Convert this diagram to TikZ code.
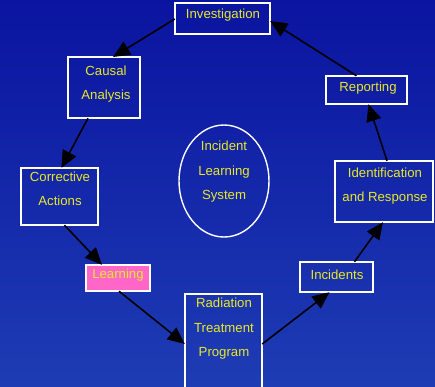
\documentclass[tikz,border=0pt]{standalone}
\usepackage{fontspec}
\setmainfont{Liberation Sans}
\usetikzlibrary{arrows.meta}
\definecolor{bgtop}{RGB}{10,20,160}
\definecolor{bgbot}{RGB}{30,60,180}
\definecolor{lbl}{RGB}{232,232,40}
\definecolor{pinkfill}{RGB}{255,102,200}
\tikzset{
  stagebox/.style={draw=white, line width=1.4pt, inner sep=0pt, minimum width=#1},
  lbltext/.style={text=lbl, font=\fontsize{13.2}{24.5}\selectfont, align=center, inner sep=0pt},
  flow/.style={draw=black, line width=1.6pt, -{Triangle[length=17pt,width=15pt]}}
}
\begin{document}
\begin{tikzpicture}[x=1pt,y=-1pt]
  % background
  \shade[top color=bgtop, bottom color=bgbot] (0,0) rectangle (435,386);
  \useasboundingbox (0,0) rectangle (435,386);

  % boxes (corner coordinates)
  \draw[stagebox] (175,3) rectangle (270,34);
  \node[inner sep=0pt, minimum width=95pt, minimum height=31pt] (inv) at (222.5,18.5) {};
  \draw[stagebox] (68,57) rectangle (140,118);
  \node[inner sep=0pt, minimum width=72pt, minimum height=61pt] (cau) at (104,87.5) {};
  \draw[stagebox] (326,76) rectangle (407,104);
  \node[inner sep=0pt, minimum width=81pt, minimum height=28pt] (rep) at (366.5,90) {};
  \draw[stagebox] (21,168) rectangle (98,225);
  \node[inner sep=0pt, minimum width=77pt, minimum height=57pt] (cor) at (59.5,196.5) {};
  \draw[stagebox] (335,161) rectangle (433,222);
  \node[inner sep=0pt, minimum width=98pt, minimum height=61pt] (idr) at (384,191.5) {};
  \draw[stagebox, fill=pinkfill] (86,265) rectangle (150,291);
  \node[inner sep=0pt, minimum width=64pt, minimum height=26pt] (lea) at (118,278) {};
  \draw[stagebox] (300,262) rectangle (373,292);
  \node[inner sep=0pt, minimum width=73pt, minimum height=30pt] (inc) at (336.5,277) {};
  \draw[stagebox] (185,294) rectangle (262,388);
  \node[inner sep=0pt, minimum width=77pt, minimum height=94pt] (rtp) at (223.5,341) {};

  % central ellipse
  \draw[white, line width=1.4pt] (224,181) ellipse (45pt and 56pt);
  \node[inner sep=0pt] (ils) at (224,181) {};

  % labels
  \node[lbltext] at (223,15) {Investigation};
  \node[lbltext] at (106,84) {Causal\\Analysis};
  \node[lbltext] at (368,88) {Reporting};
  \node[lbltext] at (60,189) {Corrective\\Actions};
  \node[lbltext] at (385,186) {Identification\\and Response};
  \node[lbltext] at (118,275) {Learning};
  \node[lbltext] at (337,275) {Incidents};
  \node[lbltext] at (224,329) {Radiation\\Treatment\\Program};
  \node[lbltext] at (224,172) {Incident\\Learning\\System};

  % cycle connectors
  \draw[flow] (inv.west |- 0,19) -- (113,57);
  \draw[flow] ([xshift=-16pt]cau.south) -- ([xshift=2pt]cor.north);
  \draw[flow] ([xshift=5pt]cor.south) -- ([xshift=-16pt]lea.north);
  \draw[flow] ([xshift=1pt]lea.south) -- (rtp.west |- 0,344);
  \draw[flow] (rtp.east |- 0,344) -- ([xshift=-7pt]inc.south);
  \draw[flow] ([xshift=18pt]inc.north) -- ([xshift=-1pt]idr.south);
  \draw[flow] ([xshift=3pt]idr.north) -- ([xshift=2pt]rep.south);
  \draw[flow] ([xshift=-10pt]rep.north) -- (inv.east |- 0,21);
\end{tikzpicture}
\end{document}
